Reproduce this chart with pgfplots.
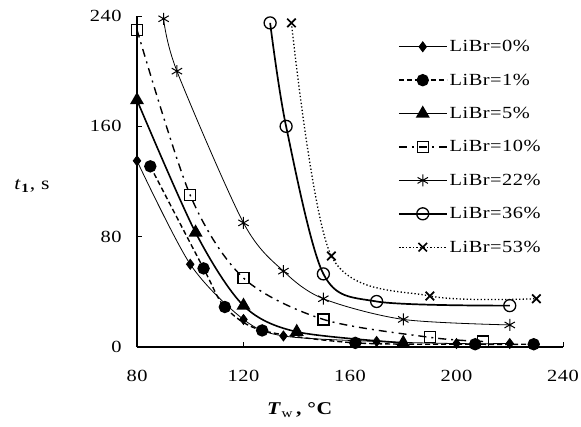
\documentclass[border=0pt]{standalone}
\usepackage{fontspec}
\setmainfont{Liberation Serif}[FakeStretch=1.2, LetterSpace=3]
\usepackage{pgfplots}
\pgfplotsset{compat=1.18}
\begin{document}
\begin{tikzpicture}
\useasboundingbox (-137pt,-79pt) rectangle (444pt,347pt);
\begin{axis}[
  scale only axis, width=426pt, height=331pt,
  at={(0,0)}, anchor=south west,
  xmin=80, xmax=240, ymin=0, ymax=240,
  axis lines=left, axis line style={-, line width=1.1pt},
  xtick={80,120,160,200,240}, ytick={0,80,160,240},
  tick align=inside, major tick length=5pt, tick style={line width=0.9pt, black},
  /pgf/number format/assume math mode=true,
  tick label style={font=\fontsize{17}{20}\selectfont},
  xticklabel style={yshift=-20pt},
  yticklabel style={xshift=-12pt},
  clip=false,
  legend style={draw=none, fill=none, at={(0.612,0.933)}, anchor=north west,
    font=\fontsize{17}{20}\selectfont, row sep=16.6pt, inner sep=0pt,
    legend cell align=left},
  legend image code/.code={%
    \draw[mark repeat=2, mark phase=2] plot coordinates {(0pt,0pt)(24pt,0pt)(48pt,0pt)};},
]
\addplot[black, line width=0.8pt, smooth, mark=diamond*, mark size=5pt, mark options={solid}]
  coordinates {(80,135)(100,60)(120,20)(135,8)(170,4)(200,2.5)(220,2.5)};
\addlegendentry{LiBr=0\%}
\addplot[black, line width=1.4pt, dash pattern=on 5pt off 3pt, smooth, mark=*, mark size=5.5pt, mark options={solid}]
  coordinates {(85,131)(105,57)(113,29)(127,12)(162,3)(207,2)(229,2)};
\addlegendentry{LiBr=1\%}
\addplot[black, line width=1.6pt, smooth, mark=triangle*, mark size=6.5pt, mark options={solid}]
  coordinates {(80,179)(102,83)(120,30)(140,11)(180,3)};
\addlegendentry{LiBr=5\%}
\addplot[black, line width=1.4pt, dash pattern=on 8pt off 5pt on 2pt off 5pt, smooth, mark=square, mark size=5.5pt, mark options={solid, fill=white, line width=1.3pt}]
  coordinates {(80,230)(100,110)(120,50)(150,20)(190,7)(210,4)};
\addlegendentry{LiBr=10\%}
\addplot[black, line width=0.8pt, smooth, mark=asterisk, mark size=6pt, mark options={solid, line width=1pt}]
  coordinates {(90,238)(95,200)(120,90)(135,55)(150,35)(180,20)(220,16)};
\addlegendentry{LiBr=22\%}
\addplot[black, line width=1.7pt, smooth, mark=o, mark size=6pt, mark options={solid, line width=1.3pt, fill=white}]
  coordinates {(130,235)(136,160)(150,53)(170,33)(220,30)};
\addlegendentry{LiBr=36\%}
\addplot[black, line width=1.3pt, dash pattern=on 1.3pt off 2.2pt, smooth, mark=x, mark size=6pt, mark options={solid, line width=1.7pt}]
  coordinates {(138,235)(153,66)(190,37)(230,35)};
\addlegendentry{LiBr=53\%}
\end{axis}
\node at (-105pt,161pt) {\fontsize{18}{21}\selectfont\textit{t}\textsubscript{\textbf{1}}, s};
\node at (163pt,-63pt) {\fontsize{18}{21}\selectfont\textbf{\textit{T}}\textsubscript{w}\,\textbf{, °C}};
\end{tikzpicture}
\end{document}
